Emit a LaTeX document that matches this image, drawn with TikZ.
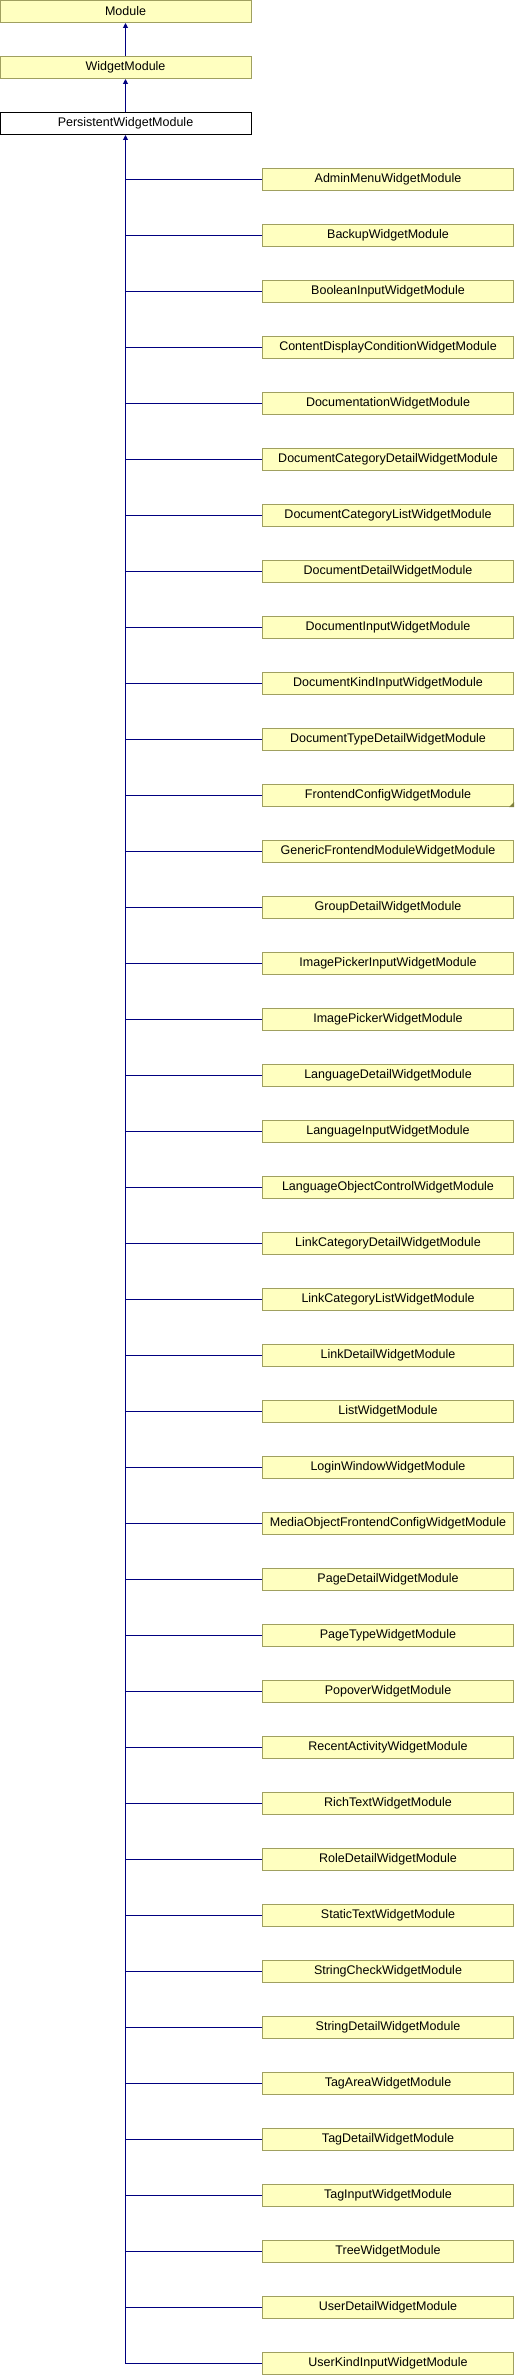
\documentclass[tikz,border=0pt]{standalone}
\usepackage{fontspec}
\setmainfont{Liberation Sans}
\usetikzlibrary{arrows.meta}
\usetikzlibrary{positioning}

\definecolor{boxfill}{HTML}{FFFFC0}
\definecolor{boxline}{HTML}{A0A060}
\definecolor{cornermark}{HTML}{808040}
\definecolor{edgeblue}{HTML}{000080}

\begin{document}
\begin{tikzpicture}[x=1pt,y=1pt,
    class/.style={draw=boxline,fill=boxfill,line width=1pt,minimum width=251pt,
      minimum height=22pt,inner sep=0pt,font=\fontsize{12.5}{14}\selectfont},
    current/.style={class,draw=black,fill=white},
    inherit/.style={draw=edgeblue,line width=1pt},
    >={Triangle[length=5pt,width=5pt]}]
  \useasboundingbox (0,0) rectangle (514,-2376);

  \node [class]   (module)  at (125.5,-11.5)  {Module};
  \node [class]   (widget)  at (125.5,-67.5)  {WidgetModule};
  \node [current] (persist) at (125.5,-123.5) {PersistentWidgetModule};

  \foreach \name [count=\i from 0] in {AdminMenuWidgetModule,BackupWidgetModule,
      BooleanInputWidgetModule,ContentDisplayConditionWidgetModule,
      DocumentationWidgetModule,DocumentCategoryDetailWidgetModule,
      DocumentCategoryListWidgetModule,DocumentDetailWidgetModule,
      DocumentInputWidgetModule,DocumentKindInputWidgetModule,
      DocumentTypeDetailWidgetModule,FrontendConfigWidgetModule,
      GenericFrontendModuleWidgetModule,GroupDetailWidgetModule,
      ImagePickerInputWidgetModule,ImagePickerWidgetModule,
      LanguageDetailWidgetModule,LanguageInputWidgetModule,
      LanguageObjectControlWidgetModule,LinkCategoryDetailWidgetModule,
      LinkCategoryListWidgetModule,LinkDetailWidgetModule,ListWidgetModule,
      LoginWindowWidgetModule,MediaObjectFrontendConfigWidgetModule,
      PageDetailWidgetModule,PageTypeWidgetModule,PopoverWidgetModule,
      RecentActivityWidgetModule,RichTextWidgetModule,RoleDetailWidgetModule,
      StaticTextWidgetModule,StringCheckWidgetModule,StringDetailWidgetModule,
      TagAreaWidgetModule,TagDetailWidgetModule,TagInputWidgetModule,
      TreeWidgetModule,UserDetailWidgetModule,UserKindInputWidgetModule} {
    \node [class] (child\i) at (388,-179.5-56*\i) {\name};
    \draw [inherit] (child\i.west) -- (persist.south |- child\i.west);
  }

  % corner mark of FrontendConfigWidgetModule
  \fill [cornermark] (child11.south east) -- ++(-5,0) -- ++(5,5) -- cycle;

  \coordinate (trunk_end) at (persist.south |- child39.west);

  \draw [inherit,->] (widget) -- (module);
  \draw [inherit,->] (persist) -- (widget);
  \draw [inherit,->] (trunk_end) -- (persist);

\end{tikzpicture}
\end{document}
